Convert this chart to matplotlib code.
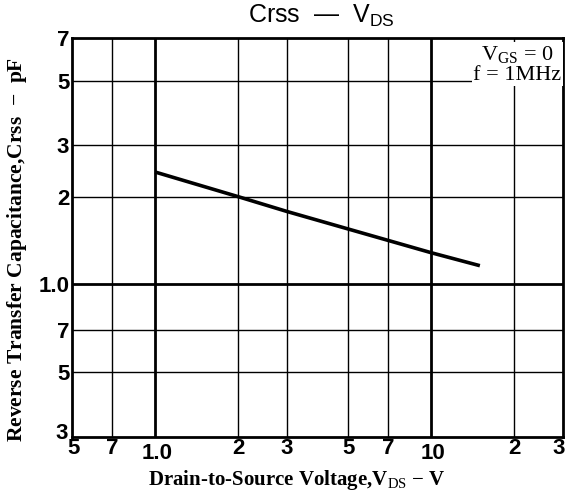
import matplotlib
matplotlib.use("Agg")
import matplotlib.pyplot as plt
import matplotlib.transforms as mtransforms
from matplotlib.ticker import FixedLocator, FixedFormatter, NullLocator
from matplotlib import font_manager

plt.rcParams['mathtext.fontset'] = 'custom'
plt.rcParams['mathtext.rm'] = 'Liberation Serif'
plt.rcParams['mathtext.bf'] = 'Liberation Serif:bold'
plt.rcParams['mathtext.sf'] = 'Liberation Sans'

# data
vds = [1.0, 2.0, 3.0, 5.0, 10.0, 15.0]
crss = [2.43, 2.0, 1.78, 1.55, 1.285, 1.16]

x_ticks = [0.5, 0.7, 1.0, 2, 3, 5, 7, 10, 20, 30]
x_tick_labels = ["5", "7", "1.0", "2", "3", "5", "7", "10", "2", "3"]
y_ticks = [0.3, 0.5, 0.7, 1.0, 2, 3, 5, 7]
y_tick_labels = ["3", "5", "7", "1.0", "2", "3", "5", "7"]
x_major = [1.0, 10]
y_major = [1.0]

names = {f.name for f in font_manager.fontManager.ttflist}
tick_font = 'Liberation Sans Narrow' if 'Liberation Sans Narrow' in names else 'Liberation Sans'

fig = plt.figure(figsize=(5.65, 4.91), dpi=100)
ax = fig.add_axes([72/565, 54/491, 491/565, 399/491])
ax.set_xscale('log')
ax.set_yscale('log')
ax.set_xlim(0.5, 30)
ax.set_ylim(0.3, 7)

for xv in x_ticks[1:-1]:
    ax.axvline(xv, color='black', lw=2.0 if xv in x_major else 1.0, zorder=1)
for yv in y_ticks[1:-1]:
    ax.axhline(yv, color='black', lw=2.0 if yv in y_major else 1.0, zorder=1)

ax.plot(vds, crss, color='black', lw=2.6, solid_capstyle='butt', zorder=3)

for s in ax.spines.values():
    s.set_linewidth(2.0)

ax.xaxis.set_major_locator(FixedLocator(x_ticks))
ax.xaxis.set_major_formatter(FixedFormatter(x_tick_labels))
ax.xaxis.set_minor_locator(NullLocator())
ax.yaxis.set_major_locator(FixedLocator(y_ticks))
ax.yaxis.set_major_formatter(FixedFormatter(y_tick_labels))
ax.yaxis.set_minor_locator(NullLocator())
ax.tick_params(axis='both', length=0)
ax.tick_params(axis='x', pad=1)
ax.tick_params(axis='y', pad=2)
for lab in ax.get_xticklabels() + ax.get_yticklabels():
    lab.set_fontfamily(tick_font)
    lab.set_fontweight('bold')
    lab.set_fontsize(16)

fig.canvas.draw()
xl = ax.get_xticklabels()
yl = ax.get_yticklabels()

def shift(t, dx, dy):
    t.set_transform(t.get_transform() +
                    mtransforms.ScaledTranslation(dx/100, dy/100, fig.dpi_scale_trans))

shift(xl[0], 2, 0)
shift(xl[2], 2, -5)
shift(xl[7], 2, -5)
shift(xl[-1], -4, 0)
shift(yl[0], -1, 6)

ax.set_xlabel(r"Drain-to-Source Voltage,V$_{\mathrm{DS}}$ $-$ V",
              fontfamily='Liberation Serif', fontweight='bold', fontsize=15)
ax.xaxis.set_label_coords(0.458, -0.077)
ax.set_ylabel(r"Reverse Transfer Capacitance,Crss  $-$  pF",
              fontfamily='Liberation Serif', fontweight='bold', fontsize=15.5)
ax.yaxis.set_label_coords(-0.087, 0.47)

fig.text(321/565, 1 - 16/491, r"Crss  —  V$_{\mathsf{DS}}$", ha='center', va='center',
         fontfamily='Liberation Sans', fontsize=18)

ax.text(0.997, 0.985, "V$_{\\mathrm{GS}}$ = 0\nf = 1MHz", transform=ax.transAxes,
        ha='right', va='top', fontfamily='Liberation Serif', fontsize=16,
        linespacing=1.0, multialignment='center',
        bbox=dict(facecolor='white', edgecolor='none', pad=1.0), zorder=4)

fig.savefig("out.png", dpi=100)
